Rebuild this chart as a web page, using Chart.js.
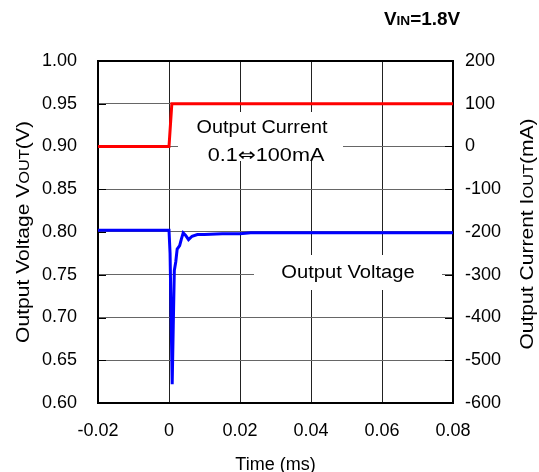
<!DOCTYPE html>
<html>
<head>
<meta charset="utf-8">
<script src="https://cdn.jsdelivr.net/npm/chart.js@4.4.1/dist/chart.umd.min.js"></script>
<style>
  html, body { margin: 0; padding: 0; background: #fff; }
  #wrap { width: 539px; height: 472px; }
</style>
</head>
<body>
<div id="wrap"><canvas id="chart" width="539" height="472"></canvas></div>
<script>
// données
const timeV = [-0.02, 0, 0.0003, 0.0006, 0.0009, 0.0012, 0.0015, 0.0019, 0.0023, 0.0030, 0.0035, 0.0040, 0.0047, 0.0055, 0.0065, 0.0080, 0.0100, 0.0150, 0.0200, 0.0230, 0.0800];
const voltage = [0.802, 0.802, 0.775, 0.700, 0.622, 0.690, 0.755, 0.765, 0.780, 0.784, 0.792, 0.799, 0.796, 0.791, 0.795, 0.797, 0.797, 0.798, 0.798, 0.799, 0.799];

const timeI = [-0.02, 0, 0.0008, 0.08];
const current = [0, 0, 100, 100];

const xTicks = [-0.02, 0, 0.02, 0.04, 0.06, 0.08];
const vTicks = [0.60, 0.65, 0.70, 0.75, 0.80, 0.85, 0.90, 0.95, 1.00];
const iTicks = [-600, -500, -400, -300, -200, -100, 0, 100, 200];

const FONT = '"Liberation Sans", Arial, sans-serif';

// écrit un texte en morceaux (tailles différentes), sx = étirement horizontal
function drawPieces(ctx, pieces, x, y, align, sx) {
    sx = sx || 1;
    const fontOf = p => (p.bold ? 'bold ' : '') + p.size + 'px ' + (p.family || FONT);
    let total = 0;
    pieces.forEach(p => {
        ctx.font = fontOf(p);
        total += ctx.measureText(p.text).width;
    });
    ctx.save();
    ctx.translate(x, y);
    ctx.scale(sx, 1);
    let cx = align === 'center' ? -total / 2 : 0;
    ctx.textAlign = 'left';
    ctx.textBaseline = 'alphabetic';
    pieces.forEach(p => {
        ctx.font = fontOf(p);
        ctx.fillText(p.text, cx, p.dy || 0);
        cx += ctx.measureText(p.text).width;
    });
    ctx.restore();
}

const decorations = {
    id: 'decorations',
    beforeDatasetsDraw(chart) {
        const ctx = chart.ctx;
        const a = chart.chartArea;
        const y = chart.scales.y;
        ctx.save();
        // ticks vers l'intérieur
        ctx.strokeStyle = '#000';
        ctx.lineWidth = 1;
        vTicks.forEach(v => {
            const py = Math.round(y.getPixelForValue(v)) + 0.5;
            ctx.beginPath();
            ctx.moveTo(a.left, py); ctx.lineTo(a.left + 8, py);
            ctx.moveTo(a.right - 8, py); ctx.lineTo(a.right, py);
            ctx.stroke();
        });
        // cadres blancs des étiquettes
        ctx.fillStyle = '#fff';
        ctx.fillRect(178, 112, 165, 49);
        ctx.fillRect(254, 255, 188, 35);
        // cadre
        ctx.strokeStyle = '#000';
        ctx.lineWidth = 2;
        ctx.strokeRect(a.left, a.top, a.right - a.left, a.bottom - a.top);
        ctx.restore();
    },
    afterDraw(chart) {
        const ctx = chart.ctx;
        const a = chart.chartArea;
        ctx.save();
        ctx.fillStyle = '#000';
        // textes dans le graphique
        drawPieces(ctx, [{ text: 'Output Current', size: 18 }], 262, 133, 'center', 1.1);
        drawPieces(ctx, [
            { text: '0.1', size: 18 },
            { text: '\u21D4', size: 18, family: '"DejaVu Sans", sans-serif' },
            { text: '100mA', size: 18 }
        ], 266, 161, 'center', 1.2);
        drawPieces(ctx, [{ text: 'Output Voltage', size: 18 }], 348, 278, 'center', 1.12);
        // VIN
        drawPieces(ctx, [
            { text: 'V', size: 18, bold: true },
            { text: 'IN', size: 13, bold: true },
            { text: '=1.8V', size: 18, bold: true }
        ], 422, 25, 'center', 1.05);
        // titre axe X
        drawPieces(ctx, [{ text: 'Time (ms)', size: 18 }], (a.left + a.right) / 2, 470, 'center', 1.0);
        // titre axe gauche
        ctx.save();
        ctx.translate(29, 232);
        ctx.rotate(-Math.PI / 2);
        drawPieces(ctx, [
            { text: 'Output Voltage V', size: 18 },
            { text: 'OUT', size: 14 },
            { text: '(V)', size: 18 }
        ], 0, 0, 'center', 1.17);
        ctx.restore();
        // titre axe droit
        ctx.save();
        ctx.translate(533, 234);
        ctx.rotate(-Math.PI / 2);
        drawPieces(ctx, [
            { text: 'Output Current I', size: 18 },
            { text: 'OUT', size: 14 },
            { text: '(mA)', size: 18 }
        ], 0, 0, 'center', 1.17);
        ctx.restore();
        ctx.restore();
    }
};

const fmtX = v => {
    const r = Math.round(v * 100) / 100;
    return r === 0 ? '0' : r.toFixed(2);
};

new Chart(document.getElementById('chart'), {
    type: 'line',
    data: {
        datasets: [{
            label: 'Output Voltage',
            data: timeV.map((t, i) => ({ x: t, y: voltage[i] })),
            borderColor: '#0000ff',
            borderWidth: 3,
            pointRadius: 0,
            tension: 0,
            yAxisID: 'y'
        }, {
            label: 'Output Current',
            data: timeI.map((t, i) => ({ x: t, y: current[i] })),
            borderColor: '#ff0000',
            borderWidth: 3,
            pointRadius: 0,
            tension: 0,
            yAxisID: 'y2'
        }]
    },
    options: {
        responsive: false,
        animation: false,
        devicePixelRatio: 1,
        layout: { padding: { top: 61, left: 0, right: 0, bottom: 0 } },
        plugins: {
            legend: { display: false },
            tooltip: { enabled: false }
        },
        scales: {
            x: {
                type: 'linear',
                min: -0.02,
                max: 0.08,
                afterFit: s => { s.height = 69; },
                afterBuildTicks: s => { s.ticks = xTicks.map(v => ({ value: v })); },
                ticks: {
                    padding: 17,
                    color: '#000',
                    font: { family: FONT, size: 18 },
                    callback: fmtX
                },
                grid: { color: '#222', lineWidth: 1, drawTicks: false },
                border: { display: false }
            },
            y: {
                position: 'left',
                min: 0.6,
                max: 1.0,
                afterFit: s => { s.width = 98; },
                afterBuildTicks: s => { s.ticks = vTicks.map(v => ({ value: v })); },
                ticks: {
                    padding: 21,
                    color: '#000',
                    font: { family: FONT, size: 18 },
                    callback: v => v.toFixed(2)
                },
                grid: { color: '#666', lineWidth: 1, drawTicks: false },
                border: { display: false }
            },
            y2: {
                position: 'right',
                min: -600,
                max: 200,
                afterFit: s => { s.width = 86; },
                afterBuildTicks: s => { s.ticks = iTicks.map(v => ({ value: v })); },
                ticks: {
                    padding: 12,
                    color: '#000',
                    font: { family: FONT, size: 18 },
                    callback: v => String(v)
                },
                grid: { display: false, drawTicks: false },
                border: { display: false }
            }
        }
    },
    plugins: [decorations]
});
</script>
</body>
</html>
